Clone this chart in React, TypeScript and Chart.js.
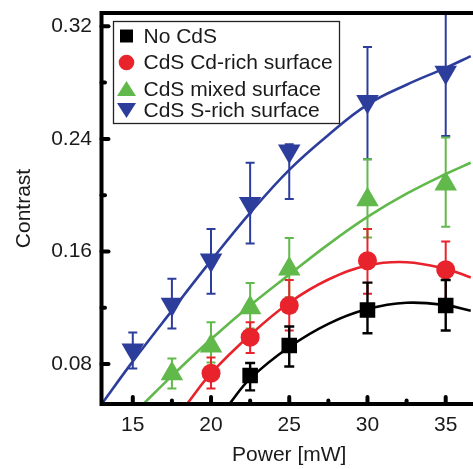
import React, { useEffect, useRef } from "react";
import { Chart, registerables } from "chart.js";

Chart.register(...registerables);

const FONT = "'Liberation Sans', Arial, Helvetica, sans-serif";
const TEXT = "#1a1a1a";

// ---- data ----
const seriesLabels = ["No CdS", "CdS Cd-rich surface", "CdS mixed surface", "CdS S-rich surface"];
const seriesColors = ["#000000", "#e8232b", "#62b94b", "#2d3d9c"];

const blackX = [22.5, 25, 30, 35];
const blackY = [0.0718, 0.0931, 0.1184, 0.1215];
const blackLo = [0.0612, 0.0782, 0.1018, 0.1038];
const blackHi = [0.0806, 0.1066, 0.1378, 0.1397];

const redX = [20, 22.5, 25, 30, 35];
const redY = [0.0733, 0.099, 0.1215, 0.1534, 0.147];
const redLo = [0.0626, 0.0877, 0.1038, 0.1298, 0.1231];
const redHi = [0.0846, 0.1096, 0.1397, 0.1759, 0.1671];

const greenX = [17.5, 20, 22.5, 25, 30, 35];
const greenY = [0.073, 0.0928, 0.12, 0.1475, 0.1967, 0.208];
const greenLo = [0.0626, 0.081, 0.1052, 0.1274, 0.1699, 0.1775];
const greenHi = [0.0839, 0.1096, 0.1376, 0.1695, 0.2255, 0.2409];

const blueX = [15, 17.5, 20, 22.5, 25, 30, 35];
const blueY = [0.0899, 0.1224, 0.1538, 0.194, 0.2314, 0.2665, 0.2874];
const blueLo = [0.0768, 0.1052, 0.1298, 0.1657, 0.1972, 0.2255, 0.2421];
const blueHi = [0.1023, 0.1406, 0.1759, 0.2231, 0.2362, 0.3054, 0.3288];

// fitted curves
const blackFitX = [21.16, 22.5, 25, 27.5, 30, 32.5, 35, 36.6];
const blackFitY = [0.0513, 0.0695, 0.092, 0.1085, 0.119, 0.1235, 0.1218, 0.1178];
const redFitX = [18.45, 20, 22.5, 25, 27.5, 30, 32.5, 35, 36.6];
const redFitY = [0.0513, 0.0732, 0.1005, 0.1235, 0.14, 0.15, 0.1523, 0.1475, 0.1415];
const greenFitX = [15.66, 17.5, 20, 22.5, 25, 27.5, 30, 32.5, 35, 36.6];
const greenFitY = [0.0513, 0.0715, 0.0975, 0.1215, 0.1435, 0.165, 0.1845, 0.201, 0.215, 0.223];
const blueFitX = [13, 15, 17.5, 20, 22.5, 25, 27.5, 30, 32.5, 35, 36.6];
const blueFitY = [0.0513, 0.0818, 0.1179, 0.1534, 0.1874, 0.218, 0.2428, 0.2644, 0.2785, 0.2905, 0.2988];

const xMajorTicks = [15, 20, 25, 30, 35];
const xMinorTicks = [17.5, 22.5, 27.5, 32.5];
const yMajorTicks = [0.08, 0.16, 0.24, 0.32];
const yMinorTicks = [0.12, 0.2, 0.28];

const X_MIN = 13;
const X_MAX = 37;
const Y_MIN = 0.0515;
const Y_MAX = 0.3295;

const pts = (xs: number[], ys: number[]) => xs.map((x, i) => ({ x, y: ys[i] }));

const markerSets = [
  { x: blackX, y: blackY, lo: blackLo, hi: blackHi, style: "rect", radius: 11, rot: 0, cap: 5 },
  { x: redX, y: redY, lo: redLo, hi: redHi, style: "circle", radius: 9.5, rot: 0, cap: 4.5 },
  { x: greenX, y: greenY, lo: greenLo, hi: greenHi, style: "triangle", radius: 13, rot: 0, cap: 4.5 },
  { x: blueX, y: blueY, lo: blueLo, hi: blueHi, style: "triangle", radius: 13, rot: 180, cap: 4.5 },
];
const fitSets = [
  { x: blackFitX, y: blackFitY },
  { x: redFitX, y: redFitY },
  { x: greenFitX, y: greenFitY },
  { x: blueFitX, y: blueFitY },
];

const framePlugin = {
  id: "frameTicksErr",
  beforeDatasetDraw(chart: any, args: any) {
    const ds = chart.data.datasets[args.index];
    if (ds._err == null) return;
    const m = markerSets[ds._err];
    const { ctx, chartArea } = chart;
    const xs = chart.scales.x;
    const ys = chart.scales.y;
    ctx.save();
    ctx.beginPath();
    ctx.rect(chartArea.left, chartArea.top, chartArea.right - chartArea.left, chartArea.bottom - chartArea.top);
    ctx.clip();
    ctx.strokeStyle = seriesColors[ds._err];
    ctx.lineWidth = ds._err === 0 ? 2.4 : 2;
    m.x.forEach((xv, i) => {
      const px = xs.getPixelForValue(xv);
      const pLo = ys.getPixelForValue(m.lo[i]);
      const pHi = ys.getPixelForValue(m.hi[i]);
      ctx.beginPath();
      ctx.moveTo(px, pLo);
      ctx.lineTo(px, pHi);
      ctx.moveTo(px - m.cap, pLo);
      ctx.lineTo(px + m.cap, pLo);
      ctx.moveTo(px - m.cap, pHi);
      ctx.lineTo(px + m.cap, pHi);
      ctx.stroke();
    });
    ctx.restore();
  },
  afterDraw(chart: any) {
    const { ctx, chartArea } = chart;
    const { left, right, top, bottom } = chartArea;
    const xs = chart.scales.x;
    const ys = chart.scales.y;
    ctx.save();
    // frame
    ctx.strokeStyle = "#000";
    ctx.lineWidth = 4;
    ctx.strokeRect(left, top, right - left, bottom - top);
    // inward ticks
    ctx.lineCap = "round";
    const tick = (x1: number, y1: number, x2: number, y2: number, w: number) => {
      ctx.lineWidth = w;
      ctx.beginPath();
      ctx.moveTo(x1, y1);
      ctx.lineTo(x2, y2);
      ctx.stroke();
    };
    xMajorTicks.forEach((v) => {
      const p = xs.getPixelForValue(v);
      tick(p, bottom, p, bottom - 7, 4);
    });
    xMinorTicks.forEach((v) => {
      const p = xs.getPixelForValue(v);
      tick(p, bottom, p, bottom - 3.5, 4);
    });
    yMajorTicks.forEach((v) => {
      const p = ys.getPixelForValue(v);
      tick(left, p, left + 7, p, 4);
    });
    yMinorTicks.forEach((v) => {
      const p = ys.getPixelForValue(v);
      tick(left, p, left + 3.5, p, 4);
    });
    ctx.lineCap = "butt";

    // legend
    const bx = left + 12;
    const by = top + 8.5;
    const bw = 226;
    const bh = 102;
    ctx.fillStyle = "#fff";
    ctx.fillRect(bx, by, bw, bh);
    ctx.strokeStyle = "#222";
    ctx.lineWidth = 1.3;
    ctx.strokeRect(bx, by, bw, bh);
    const rowOffsets = [14.5, 41, 67.5, 88.5];
    ctx.font = `21px ${FONT}`;
    ctx.textBaseline = "middle";
    ctx.textAlign = "left";
    chart.data.datasets
      .filter((d: any) => d._err != null)
      .forEach((d: any) => {
        const i = d._err;
        const cy = by + rowOffsets[i];
        const cx = bx + 13;
        ctx.fillStyle = seriesColors[i];
        ctx.beginPath();
        if (i === 0) {
          ctx.rect(cx - 6.5, cy - 6.5, 13, 13);
        } else if (i === 1) {
          ctx.arc(cx, cy, 7.8, 0, Math.PI * 2);
        } else if (i === 2) {
          ctx.moveTo(cx, cy - 8);
          ctx.lineTo(cx + 9.5, cy + 7);
          ctx.lineTo(cx - 9.5, cy + 7);
          ctx.closePath();
        } else {
          ctx.moveTo(cx - 9.5, cy - 7);
          ctx.lineTo(cx + 9.5, cy - 7);
          ctx.lineTo(cx, cy + 8);
          ctx.closePath();
        }
        ctx.fill();
        ctx.fillStyle = TEXT;
        ctx.fillText(d.label, bx + 30, cy + 1);
      });
    ctx.restore();
  },
};

export default function App() {
  const ref = useRef<HTMLCanvasElement | null>(null);

  useEffect(() => {
    const canvas = ref.current;
    if (!canvas) return;

    const curveDatasets = fitSets.map((f, i) => ({
      type: "line" as const,
      label: seriesLabels[i] + " fit",
      data: pts(f.x, f.y),
      borderColor: seriesColors[i],
      borderWidth: 2.6,
      pointRadius: 0,
      tension: 0.4,
      fill: false,
      showLine: true,
      order: 5,
    }));
    const markerDatasets = markerSets.map((m, i) => ({
      type: "scatter" as const,
      label: seriesLabels[i],
      data: pts(m.x, m.y),
      backgroundColor: seriesColors[i],
      borderColor: seriesColors[i],
      borderWidth: 0,
      pointStyle: m.style,
      pointRadius: m.radius,
      pointRotation: m.rot,
      showLine: false,
      order: 1,
      _err: i,
    }));

    const chart = new Chart(canvas, {
      type: "scatter",
      data: { datasets: [...curveDatasets, ...markerDatasets] as any },
      options: {
        animation: false,
        responsive: false,
        maintainAspectRatio: false,
        devicePixelRatio: 1,
        layout: { padding: { left: 0, top: 12, right: 9.8, bottom: 0 } },
        plugins: { legend: { display: false }, tooltip: { enabled: false } },
        scales: {
          x: {
            type: "linear",
            min: X_MIN,
            max: X_MAX,
            afterBuildTicks: (s: any) => {
              s.ticks = xMajorTicks.map((v) => ({ value: v }));
            },
            afterFit: (s: any) => {
              s.height = 65;
              s.paddingLeft = 0;
              s.paddingRight = 0;
            },
            grid: { display: false, drawTicks: false },
            border: { display: false },
            ticks: {
              padding: 9,
              color: TEXT,
              font: { family: FONT, size: 21 },
              maxRotation: 0,
              autoSkip: false,
            },
            title: {
              display: true,
              text: "Power [mW]",
              color: TEXT,
              font: { family: FONT, size: 21 },
              padding: { top: 0, bottom: 1 },
            },
          },
          y: {
            type: "linear",
            min: Y_MIN,
            max: Y_MAX,
            afterBuildTicks: (s: any) => {
              s.ticks = yMajorTicks.map((v) => ({ value: v }));
            },
            afterFit: (s: any) => {
              s.width = 101.5;
              s.paddingTop = 0;
              s.paddingBottom = 0;
            },
            grid: { display: false, drawTicks: false },
            border: { display: false },
            ticks: {
              padding: 9.5,
              color: TEXT,
              font: { family: FONT, size: 21 },
              autoSkip: false,
              callback: (v: any) => Number(v).toFixed(2),
            },
            title: {
              display: true,
              text: "Contrast",
              color: TEXT,
              font: { family: FONT, size: 21 },
              padding: { top: 11.5, bottom: 0 },
            },
          },
        },
      },
      plugins: [framePlugin],
    } as any);

    return () => chart.destroy();
  }, []);

  return (
    <div
      style={{
        position: "fixed",
        left: 0,
        top: 0,
        width: 473,
        height: 469,
        overflow: "hidden",
        background: "#fff",
      }}
    >
      <canvas ref={ref} width={490} height={469} style={{ display: "block", width: 490, height: 469 }} />
    </div>
  );
}
